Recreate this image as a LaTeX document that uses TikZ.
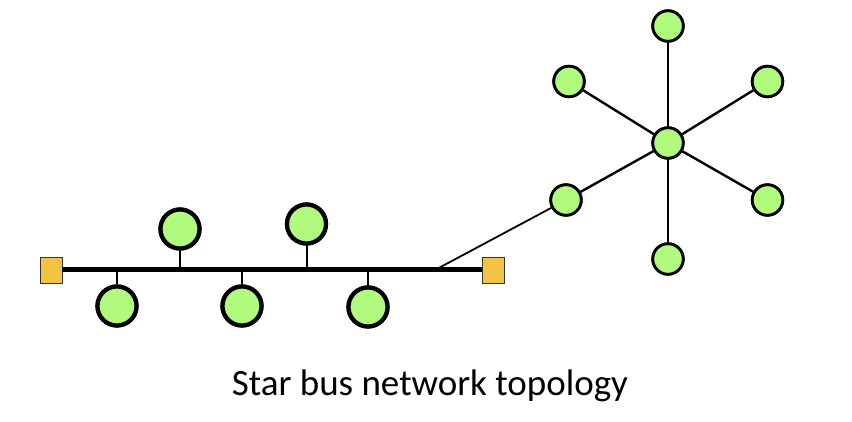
\documentclass[tikz,border=0pt]{standalone}
\usepackage{fontspec}
\newfontfamily\capfont{Carlito}
\usepackage{tikz}
\usetikzlibrary{positioning}
\definecolor{hostgreen}{RGB}{176,250,125}
\definecolor{termorange}{RGB}{244,194,66}

\begin{document}
\begin{tikzpicture}[x=1pt,y=-1pt,
    bushost/.style={circle,draw,line width=4.2pt,fill=hostgreen,minimum size=39pt,inner sep=0pt},
    starhost/.style={circle,draw,line width=2.8pt,fill=hostgreen,minimum size=30.5pt,inner sep=0pt},
    terminator/.style={draw=black!80,line width=0.8pt,fill=termorange,minimum width=22pt,minimum height=26pt,inner sep=0pt},
    spoke/.style={line width=2.4pt},
    stem/.style={line width=2pt}]
    \useasboundingbox (0,0) rectangle (852,422);
    % bus
    \node[terminator] (t1) at (51,270) {};
    \node[terminator] (t2) at (493.5,270) {};
    \draw[line width=5pt] (t1.east) -- (t2.west);
    \coordinate (tap) at (435,270);
    \node[bushost] (b1) at (180,229) {};
    \node[bushost] (b2) at (306.5,224) {};
    \node[bushost] (b3) at (117,306) {};
    \node[bushost] (b4) at (242,306) {};
    \node[bushost] (b5) at (368,307) {};
    \foreach \h in {b1,b2,b3,b4,b5}
        \draw[stem] (\h) -- (\h |- tap);
    % star
    \node[starhost] (s0) at (668,143) {};
    \node[starhost] (s1) at (668,26) {};
    \node[starhost] (s2) at (569,81.5) {};
    \node[starhost] (s3) at (767.5,81.5) {};
    \node[starhost] (s4) at (566,200) {};
    \node[starhost] (s5) at (767.5,200) {};
    \node[starhost] (s6) at (668,259) {};
    \foreach \h in {s1,s2,s3,s4,s5,s6}
        \draw[spoke] (s0) -- (\h);
    \draw[line width=1.8pt] (tap) -- (s4);
    \foreach \h in {s0,s1,s2,s3,s4,s5,s6}
        \node[starhost] at (\h) {};
    \foreach \h in {b1,b2,b3,b4,b5}
        \node[bushost] at (\h) {};
    \node[font=\capfont\fontsize{37}{44}\selectfont,anchor=base] (caption) at (430,395) {Star bus network topology};
\end{tikzpicture}
\end{document}
